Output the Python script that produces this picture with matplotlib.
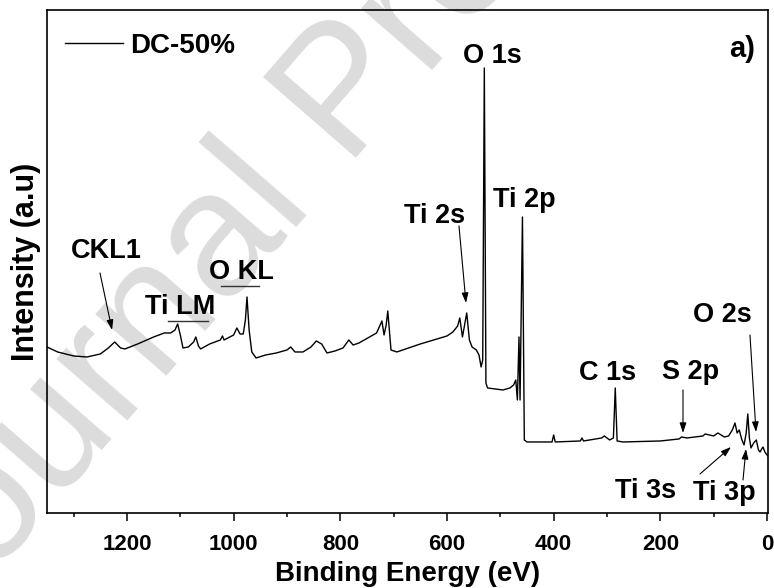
import matplotlib
matplotlib.use('Agg')
from matplotlib import pyplot as plt
from matplotlib.ticker import MultipleLocator
import numpy as np

plt.rcParams['font.family'] = ['Liberation Sans', 'DejaVu Sans']
plt.rcParams['font.weight'] = 'bold'

# survey spectrum (binding energy in eV, intensity in a.u.)
binding_energy = [
    1350, 1330, 1300, 1275, 1250, 1235, 1223, 1212, 1204, 1180,
    1150, 1130, 1118, 1110, 1105, 1100, 1095, 1085, 1075, 1071,
    1066, 1062, 1045, 1025, 1021, 1018, 1000, 994, 988, 982,
    978, 975, 971, 966, 958, 940, 920, 900, 893, 885,
    870, 855, 845, 835, 825, 810, 795, 784, 776, 765,
    745, 732, 722, 718, 714, 711, 708, 705, 694, 650,
    600, 589, 580, 576, 571, 567, 563, 558, 553, 545,
    540, 536, 533, 530, 527, 524, 510, 495, 482, 475,
    471, 468, 465, 463, 458.5, 455, 450, 420, 403, 400,
    397, 350, 347, 344, 310, 305, 295, 288, 284.5, 281,
    270, 200, 165, 160, 150, 120, 116, 100, 92, 80,
    72, 65, 60, 56, 52, 47, 43, 39, 36, 33,
    30, 25, 20, 16, 13, 10, 7.5, 4, 0, -2,
]
intensity = [
    166, 161, 157, 156, 159, 165, 171, 165, 164, 169,
    176, 180, 180, 183, 189, 178, 165, 166, 171, 176,
    167, 164, 169, 173, 177, 173, 178, 185, 179, 179,
    193, 216, 183, 161, 155, 158, 160, 163, 166, 161,
    161, 166, 172, 169, 160, 162, 165, 173, 168, 170,
    176, 180, 192, 178, 188, 202, 183, 163, 161, 169,
    177, 181, 187, 195, 176, 188, 200, 173, 166, 163,
    158, 146, 153, 445, 130, 125, 124, 123, 125, 128,
    133, 113, 176, 113, 296, 73, 71, 71, 71, 78,
    71, 72, 75, 72, 75, 77, 73, 75, 125, 72,
    71, 72, 74, 76, 75, 77, 79, 77, 80, 76,
    77, 83, 90, 80, 83, 73, 68, 80, 99, 75,
    65, 70, 73, 63, 61, 64, 66, 61, 58, 57,
]

series_name = 'DC-50%'
panel_tag = 'a)'

# peak labels: text, text position, arrow start, arrow tip
labels = ['O 1s', 'Ti 2p', 'Ti 2s', 'CKL1', 'O KL', 'Ti LM',
          'C 1s', 'S 2p', 'O 2s', 'Ti 3s', 'Ti 3p']
label_x = [514.7, 454.7, 622.5, 1239, 986, 1100.6, 298, 144, 84, 227, 80.6]
label_y = [450, 306, 290, 255, 234, 199, 133, 134, 191, 15, 13]
arrows = {
    'Ti 2s': ((577.5, 287), (564.4, 210)),
    'CKL1': ((1250.6, 240), (1228, 183)),
    'S 2p': ((157.5, 123), (157.5, 80)),
    'O 2s': ((31.9, 178), (20.6, 81)),
    'Ti 3s': ((125.6, 39), (67.5, 66)),
    'Ti 3p': ((45, 33), (39.4, 64)),
}
underlines = {
    'O KL': ((1023.8, 952.5), 227),
    'Ti LM': ((1123, 1048), 192),
}

fig = plt.figure(figsize=(7.74, 5.88), dpi=100)
ax = fig.add_axes([0.0607, 0.1276, 0.9319, 0.8554])
ax.set_facecolor('none')

# watermark behind everything
fig.text(0.45, 0.835, 'Journal Pre-proof', rotation=49, fontsize=128,
         fontweight='normal', color='#dcdcdc', ha='center', va='center',
         zorder=-1)

ax.plot(binding_energy, intensity, color='black', lw=1.0, label=series_name)

for name, tx, ty in zip(labels, label_x, label_y):
    ax.text(tx, ty, name, fontsize=19.5, fontweight='bold',
            ha='center', va='baseline')
    if name in arrows:
        start, tip = arrows[name]
        ax.annotate('', xy=tip, xytext=start,
                    arrowprops=dict(arrowstyle='-|>,head_length=0.6,head_width=0.2',
                                    color='black', lw=0.8, shrinkA=0, shrinkB=0))
    if name in underlines:
        (x0, x1), yl = underlines[name]
        ax.plot([x0, x1], [yl, yl], color='#333333', lw=1.0)

ax.text(22.5, 456, panel_tag, fontsize=21, fontweight='bold',
        ha='right', va='baseline')

leg = ax.legend(loc='upper left', bbox_to_anchor=(0.025, 0.955), frameon=False,
                fontsize=20, handlelength=2.1, handletextpad=0.25,
                borderpad=0, borderaxespad=0)
for t in leg.get_texts():
    t.set_fontweight('bold')

ax.set_xlim(1350, -2.4)
ax.set_ylim(0, 503)
ax.xaxis.set_major_locator(MultipleLocator(200))
ax.xaxis.set_minor_locator(MultipleLocator(100))
ax.set_yticks([])
ax.tick_params(axis='x', which='major', direction='out', length=5.5, width=1.1,
               labelsize=16, pad=10)
ax.tick_params(axis='x', which='minor', direction='out', length=3, width=1.1)
for lab in ax.get_xticklabels():
    lab.set_fontweight('bold')
for sp in ax.spines.values():
    sp.set_linewidth(1.2)

ax.set_xlabel('Binding Energy (eV)', fontsize=20, fontweight='bold', labelpad=4)
ax.set_ylabel('Intensity (a.u)', fontsize=22, fontweight='bold', labelpad=4)

fig.savefig('out.png', dpi=100)
